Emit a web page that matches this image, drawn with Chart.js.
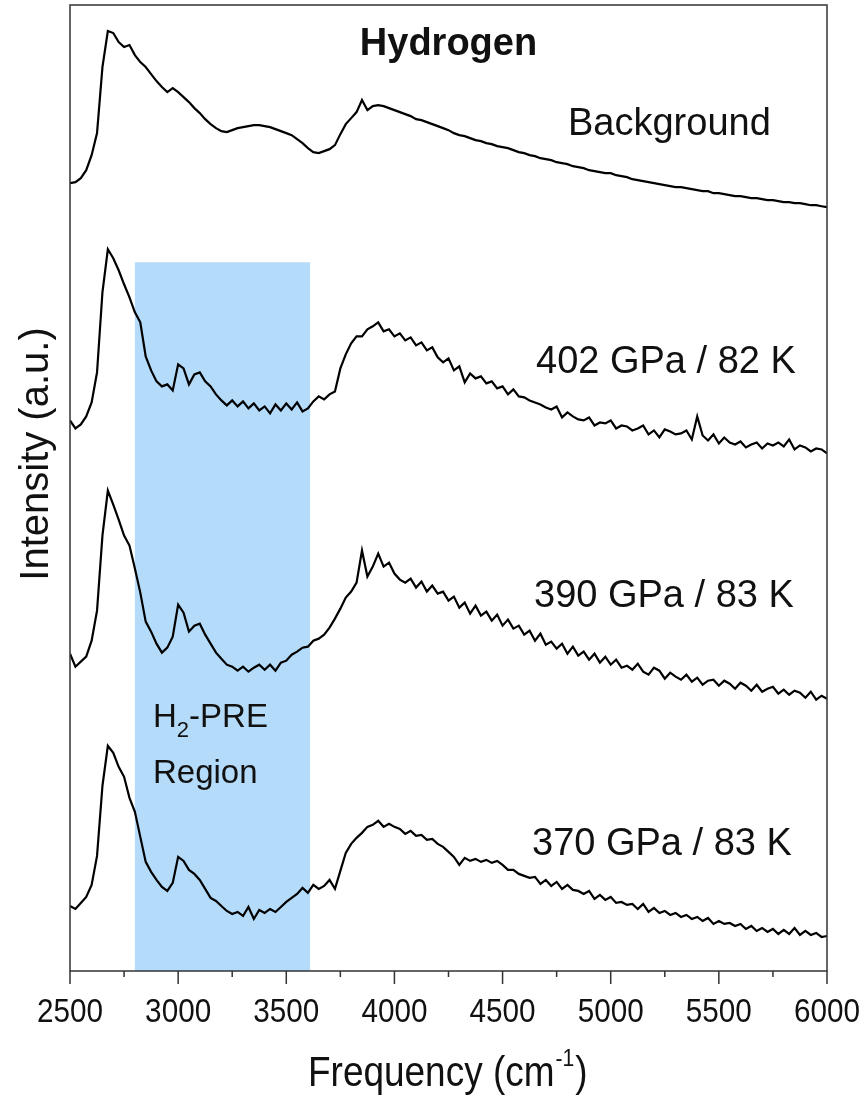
<!DOCTYPE html>
<html>
<head>
<meta charset="utf-8">
<script src="https://cdn.jsdelivr.net/npm/chart.js@4.4.0/dist/chart.umd.min.js"></script>
<style>
  body { margin: 0; background: #fff; }
  #wrap { width: 867px; height: 1099px; }
</style>
</head>
<body>
<div id="wrap"><canvas id="ramanChart" width="867" height="1099"></canvas></div>
<script>
// frequency grid (cm-1)
const frequency = [
  2500,2525,2550,2575,2600,2625,2650,2675,2700,2725,2750,2775,2800,2825,2850,2875,2900,2925,2950,2975,
  3000,3025,3050,3075,3100,3125,3150,3175,3200,3225,3250,3275,3300,3325,3350,3375,3400,3425,3450,3475,
  3500,3525,3550,3575,3600,3625,3650,3675,3700,3725,3750,3775,3800,3825,3850,3875,3900,3925,3950,3975,
  4000,4025,4050,4075,4100,4125,4150,4175,4200,4225,4250,4275,4300,4325,4350,4375,4400,4425,4450,4475,
  4500,4525,4550,4575,4600,4625,4650,4675,4700,4725,4750,4775,4800,4825,4850,4875,4900,4925,4950,4975,
  5000,5025,5050,5075,5100,5125,5150,5175,5200,5225,5250,5275,5300,5325,5350,5375,5400,5425,5450,5475,
  5500,5525,5550,5575,5600,5625,5650,5675,5700,5725,5750,5775,5800,5825,5850,5875,5900,5925,5950,5975,
  6000
];

// stacked intensities (a.u.), already offset per trace
const background = [
  817,818,822,830,845,867,933,969,967,958,953,955,945,938,933,926,919,913,908,912,
  908,903,898,892,887,881,876,872,869,868,870,872,873,874,875,875,874,873,871,869,
  867,865,861,857,852,848,847,849,851,855,866,876,882,888,900,890,894,895,894,892,
  890,888,886,884,881,880,878,876,874,872,870,867,865,864,862,860,859,857,856,854,
  853,852,850,848,847,845,844,842,841,840,838,837,836,834,833,832,830,829,828,827,
  827,825,824,823,821,820,819,818,817,816,815,814,813,813,812,811,810,809,809,807,
  807,806,805,804,804,803,802,802,801,800,800,799,798,798,797,797,796,795,795,794,
  793
];
const gpa402 = [
  580,572,576,584,598,628,708,751,742,730,716,703,688,678,644,630,619,614,616,610,
  636,632,616,626,628,619,614,606,600,595,600,594,599,592,597,590,594,587,596,590,
  597,591,598,589,592,599,604,601,606,609,632,646,657,664,664,671,674,678,669,671,
  664,667,660,663,655,658,650,653,643,638,642,630,634,618,627,622,624,617,619,612,
  614,606,611,604,603,600,598,596,593,591,594,583,588,584,581,580,583,575,578,577,
  580,572,575,574,570,572,575,566,570,563,571,569,566,567,570,561,584,565,560,566,
  557,563,558,556,559,553,556,558,552,557,555,558,554,561,551,555,553,549,552,551,
  547
];
const gpa390 = [
  347,334,339,344,360,390,465,510,496,481,465,455,432,408,379,369,357,348,353,364,
  396,388,369,375,377,366,357,348,342,336,334,330,334,329,333,336,331,336,330,338,
  340,346,349,353,354,360,362,366,373,382,392,403,409,418,450,424,434,447,434,438,
  427,421,418,422,413,419,409,415,407,409,400,404,393,398,387,395,385,389,380,386,
  375,381,372,375,366,370,360,367,356,359,352,357,347,354,345,349,341,347,338,344,
  336,341,333,335,331,337,329,326,333,330,322,328,324,321,326,319,323,316,320,321,
  315,320,317,312,318,315,310,316,309,312,314,307,311,306,310,308,303,309,301,305,
  302
];
const gpa370 = [
  95,92,98,104,116,145,215,255,248,234,224,203,189,164,139,129,121,114,110,118,
  144,140,131,127,121,112,103,100,95,90,87,89,85,94,82,91,88,92,89,94,
  99,103,107,113,108,116,112,115,121,112,130,148,157,163,168,174,176,180,174,177,
  174,172,167,170,165,166,161,162,157,154,149,144,136,143,140,142,139,141,138,140,
  136,131,131,127,125,123,124,117,121,115,119,112,116,111,110,107,110,102,106,101,
  104,98,99,96,97,92,97,89,93,88,90,86,88,84,86,82,84,80,83,77,
  80,77,78,75,77,72,75,70,73,69,72,67,71,67,73,66,70,66,68,64,
  65
];

const traceNames = ['Background', '402 GPa / 82 K', '390 GPa / 83 K', '370 GPa / 83 K'];
const xTicks = [2500, 3000, 3500, 4000, 4500, 5000, 5500, 6000];
const xMinorTicks = [2750, 3250, 3750, 4250, 4750, 5250, 5750];

// H2-PRE shaded band
const regionStart = 2800;
const regionEnd = 3610;
const regionTop = 738;

const FONT = "'Liberation Sans', Arial, sans-serif";

const toPoints = (arr) => frequency.map((f, i) => ({ x: f, y: arr[i] }));

// text squeezed a little horizontally, like the original export
function narrowText(ctx, text, x, y, sx) {
  ctx.save();
  ctx.translate(x, y);
  ctx.scale(sx, 1);
  ctx.fillText(text, 0, 0);
  ctx.restore();
}

const decorations = {
  id: 'decorations',
  beforeDatasetsDraw(chart) {
    const { ctx, chartArea, scales: { x, y } } = chart;
    const l = x.getPixelForValue(regionStart);
    const r = x.getPixelForValue(regionEnd);
    const t = y.getPixelForValue(regionTop);
    ctx.save();
    ctx.fillStyle = '#b4dbfa';
    ctx.fillRect(l, t, r - l, chartArea.bottom - t);
    ctx.restore();
  },
  afterDraw(chart) {
    const { ctx, chartArea, scales: { x } } = chart;
    ctx.save();
    // frame
    ctx.strokeStyle = '#333';
    ctx.lineWidth = 1.5;
    ctx.strokeRect(chartArea.left, chartArea.top, chartArea.right - chartArea.left, chartArea.bottom - chartArea.top);

    // major + minor ticks
    ctx.beginPath();
    xTicks.forEach(v => {
      const px = x.getPixelForValue(v);
      ctx.moveTo(px, chartArea.bottom);
      ctx.lineTo(px, chartArea.bottom + 13);
    });
    xMinorTicks.forEach(v => {
      const px = x.getPixelForValue(v);
      ctx.moveTo(px, chartArea.bottom);
      ctx.lineTo(px, chartArea.bottom + 6);
    });
    ctx.stroke();

    ctx.fillStyle = '#111';
    ctx.textBaseline = 'alphabetic';

    // tick labels
    ctx.font = '33px ' + FONT;
    ctx.textAlign = 'center';
    xTicks.forEach(v => {
      narrowText(ctx, String(v), x.getPixelForValue(v), chartArea.bottom + 51, 0.9);
    });

    // title
    ctx.font = 'bold 38px ' + FONT;
    ctx.fillText('Hydrogen', (chartArea.left + chartArea.right) / 2, 55);

    // trace labels
    ctx.font = '38px ' + FONT;
    ctx.textAlign = 'left';
    ctx.fillText(traceNames[0], 568, 135);
    ctx.fillText(traceNames[1], 536, 373);
    ctx.fillText(traceNames[2], 534, 607);
    ctx.fillText(traceNames[3], 532, 855);

    // region label
    ctx.font = '33px ' + FONT;
    ctx.fillText('H', 153, 727);
    let w = ctx.measureText('H').width;
    ctx.font = '22px ' + FONT;
    ctx.fillText('2', 153 + w, 737);
    w += ctx.measureText('2').width;
    ctx.font = '33px ' + FONT;
    ctx.fillText('-PRE', 153 + w, 727);
    ctx.fillText('Region', 153, 783);

    // x axis title
    const sx = 0.88;
    ctx.font = '42px ' + FONT;
    narrowText(ctx, 'Frequency (cm', 308, 1086, sx);
    let xw = ctx.measureText('Frequency (cm').width * sx;
    ctx.font = '24px ' + FONT;
    narrowText(ctx, '-1', 308 + xw + 1, 1066, sx);
    xw += ctx.measureText('-1').width * sx + 2;
    ctx.font = '42px ' + FONT;
    narrowText(ctx, ')', 308 + xw, 1086, sx);

    // y axis title
    ctx.font = '40px ' + FONT;
    ctx.translate(48, 454);
    ctx.rotate(-Math.PI / 2);
    ctx.textAlign = 'center';
    ctx.fillText('Intensity (a.u.)', 0, 0);
    ctx.restore();
  }
};

const series = [background, gpa402, gpa390, gpa370];

new Chart(document.getElementById('ramanChart').getContext('2d'), {
  type: 'line',
  data: {
    datasets: series.map((s, i) => ({
      label: traceNames[i],
      data: toPoints(s),
      borderColor: '#000',
      borderWidth: 2.2,
      pointRadius: 0,
      tension: 0,
      fill: false
    }))
  },
  options: {
    responsive: false,
    animation: false,
    layout: { padding: { left: 70, right: 40, top: 5, bottom: 0 } },
    plugins: {
      legend: { display: false },
      tooltip: { enabled: false },
      title: { display: false }
    },
    scales: {
      x: {
        type: 'linear',
        min: 2500,
        max: 6000,
        afterFit: (scale) => { scale.height = 128; },
        ticks: { display: false },
        grid: { display: false },
        border: { display: false }
      },
      y: { display: false, min: 30, max: 995 }
    }
  },
  plugins: [decorations]
});
</script>
</body>
</html>
